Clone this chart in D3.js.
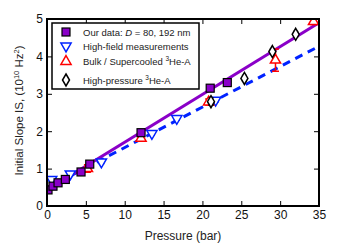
<!DOCTYPE html>
<html>
<head>
<meta charset="utf-8">
<script src="https://cdn.jsdelivr.net/npm/d3@7"></script>
<style>
  body { margin: 0; background: #fff; }
  svg { font-family: "Liberation Sans", Arial, sans-serif; }
</style>
</head>
<body>
<div id="chart"></div>
<script>
// values
const ourP = [0.13, 0.77, 1.42, 2.36, 4.38, 5.5, 12.1, 21.0, 23.2];
const ourIS = [0.43, 0.53, 0.62, 0.71, 0.91, 1.12, 1.96, 3.15, 3.30];

const fieldP = [0.6, 3.0, 7.0, 13.5, 16.7, 21.7];
const fieldIS = [0.71, 0.86, 1.18, 1.94, 2.34, 2.83];

const bulkP = [5.2, 12.1, 20.8, 29.4, 34.3];
const bulkIS = [1.0, 1.81, 2.78, 3.90, 4.93];
const bulkErr = [0.1, 0.06, 0.08, 0.3, 0.08];

const hpP = [21.1, 25.4, 29.0, 32.0];
const hpIS = [2.79, 3.41, 4.13, 4.59];
const hpErr = [0.1, 0.08, 0.08, 0.08];

const fitP = [0, 35];
const ourFit = [0.43, 4.9];
const fieldFit = [0.48, 4.27];

const xTicks = [0, 5, 10, 15, 20, 25, 30, 35];
const yTicks = [0, 1, 2, 3, 4, 5];

const W = 340, H = 250;
const m = { left: 47, right: 21, top: 19, bottom: 44 };

const svg = d3.select("#chart").append("svg").attr("width", W).attr("height", H);

const x = d3.scaleLinear().domain([0, 35]).range([m.left, W - m.right]);
const y = d3.scaleLinear().domain([0, 5]).range([H - m.bottom, m.top]);

const purple = "#8a00c8";

svg.append("clipPath").attr("id", "clip")
  .append("rect").attr("x", m.left).attr("y", m.top)
  .attr("width", W - m.left - m.right).attr("height", H - m.top - m.bottom);

const plot = svg.append("g").attr("clip-path", "url(#clip)");

// fit lines
const line = d3.line().x(d => x(d[0])).y(d => y(d[1]));
plot.append("path")
  .datum(fitP.map((p, i) => [p, fieldFit[i]]))
  .attr("d", line).attr("fill", "none")
  .attr("stroke", "#0022ff").attr("stroke-width", 3).attr("stroke-dasharray", "8,6");
plot.append("path")
  .datum(fitP.map((p, i) => [p, ourFit[i]]))
  .attr("d", line).attr("fill", "none")
  .attr("stroke", purple).attr("stroke-width", 3);

const tri = d3.symbol().type(d3.symbolTriangle).size(45);

// high-field (down triangles)
const field = fieldP.map((p, i) => ({ p, v: fieldIS[i], e: 0.05 }));
plot.append("g").selectAll("path.eb").data(field).join("path")
  .attr("d", d => `M${x(d.p)},${y(d.v - d.e)}V${y(d.v + d.e)}M${x(d.p) - 3},${y(d.v - d.e)}h6M${x(d.p) - 3},${y(d.v + d.e)}h6`)
  .attr("stroke", "#0022ff").attr("stroke-width", 1.2);
plot.append("g").selectAll("path.m").data(field).join("path")
  .attr("d", tri)
  .attr("transform", d => `translate(${x(d.p)},${y(d.v)}) rotate(180)`)
  .attr("fill", "#fff").attr("stroke", "#0022ff").attr("stroke-width", 1.5);

// bulk / supercooled (up triangles, red)
const bulk = bulkP.map((p, i) => ({ p, v: bulkIS[i], e: bulkErr[i] }));
plot.append("g").selectAll("path").data(bulk).join("path")
  .attr("d", d => `M${x(d.p)},${y(d.v - d.e)}V${y(d.v + d.e)}M${x(d.p) - 3.5},${y(d.v - d.e)}h7M${x(d.p) - 3.5},${y(d.v + d.e)}h7`)
  .attr("stroke", "#ff0000").attr("stroke-width", 1.5);
plot.append("g").selectAll("path").data(bulk).join("path")
  .attr("d", tri)
  .attr("transform", d => `translate(${x(d.p)},${y(d.v)})`)
  .attr("fill", "#fff").attr("stroke", "#ff0000").attr("stroke-width", 1.5);

// high-pressure (diamonds)
const hp = hpP.map((p, i) => ({ p, v: hpIS[i], e: hpErr[i] }));
const diamond = "M0,-6L3.5,0L0,6L-3.5,0Z";
plot.append("g").selectAll("path").data(hp).join("path")
  .attr("d", d => `M${x(d.p)},${y(d.v - d.e)}V${y(d.v + d.e)}M${x(d.p) - 2.5},${y(d.v - d.e)}h5M${x(d.p) - 2.5},${y(d.v + d.e)}h5`)
  .attr("stroke", "#000").attr("stroke-width", 1.2);
plot.append("g").selectAll("path").data(hp).join("path")
  .attr("d", diamond)
  .attr("transform", d => `translate(${x(d.p)},${y(d.v)})`)
  .attr("fill", "#fff").attr("stroke", "#000").attr("stroke-width", 1.5);

// our data (squares)
plot.append("g").selectAll("rect").data(ourP.map((p, i) => ({ p, v: ourIS[i] }))).join("rect")
  .attr("x", d => x(d.p) - 4).attr("y", d => y(d.v) - 4)
  .attr("width", 8).attr("height", 8)
  .attr("fill", purple).attr("stroke", "#000").attr("stroke-width", 1.2);

// axes with inward ticks on all four sides
const axB = svg.append("g").attr("transform", `translate(0,${H - m.bottom})`)
  .call(d3.axisBottom(x).tickValues(xTicks).tickFormat(d3.format("d")).tickSize(-5).tickPadding(4));
const axL = svg.append("g").attr("transform", `translate(${m.left},0)`)
  .call(d3.axisLeft(y).tickValues(yTicks).tickFormat(d3.format("d")).tickSize(-5).tickPadding(4));
const axT = svg.append("g").attr("transform", `translate(0,${m.top})`)
  .call(d3.axisTop(x).tickValues(xTicks).tickSize(-5).tickFormat(""));
const axR = svg.append("g").attr("transform", `translate(${W - m.right},0)`)
  .call(d3.axisRight(y).tickValues(yTicks).tickSize(-5).tickFormat(""));
[axB, axL, axT, axR].forEach(a => {
  a.select(".domain").remove();
  a.selectAll("line").attr("stroke", "#000").attr("stroke-width", 1);
  a.selectAll("text").attr("font-size", 12).attr("fill", "#111")
    .attr("font-family", "'Liberation Sans', Arial, sans-serif");
});

svg.append("rect")
  .attr("x", m.left).attr("y", m.top)
  .attr("width", W - m.left - m.right).attr("height", H - m.top - m.bottom)
  .attr("fill", "none").attr("stroke", "#000").attr("stroke-width", 2);

// axis labels
svg.append("text").attr("x", x(17.5)).attr("y", 240)
  .attr("text-anchor", "middle").attr("font-size", 12).attr("fill", "#222")
  .text("Pressure (bar)");

const yl = svg.append("text")
  .attr("transform", `translate(23,${(m.top + H - m.bottom) / 2 - 2}) rotate(-90)`)
  .attr("text-anchor", "middle").attr("font-size", 11.5).attr("fill", "#222");
yl.append("tspan").text("Initial Slope IS, (10");
yl.append("tspan").attr("font-size", 7.5).attr("dy", -4).text("10");
yl.append("tspan").attr("dy", 4).text(" Hz");
yl.append("tspan").attr("font-size", 7.5).attr("dy", -4).text("2");
yl.append("tspan").attr("dy", 4).text(")");

// legend
const lg = svg.append("g");
lg.append("rect").attr("x", 52).attr("y", 23).attr("width", 147).attr("height", 66)
  .attr("fill", "#fff").attr("stroke", "#000").attr("stroke-width", 1.5);

const rows = [32, 46, 61.5, 80];
const mx = 66, tx = 83;
lg.append("rect").attr("x", mx - 4).attr("y", rows[0] - 4).attr("width", 8).attr("height", 8)
  .attr("fill", purple).attr("stroke", "#000").attr("stroke-width", 1.2);
lg.append("path").attr("d", tri).attr("transform", `translate(${mx},${rows[1]}) rotate(180)`)
  .attr("fill", "#fff").attr("stroke", "#0022ff").attr("stroke-width", 1.5);
lg.append("path").attr("d", tri).attr("transform", `translate(${mx},${rows[2]})`)
  .attr("fill", "#fff").attr("stroke", "#ff0000").attr("stroke-width", 1.5);
lg.append("path").attr("d", diamond).attr("transform", `translate(${mx},${rows[3]})`)
  .attr("fill", "#fff").attr("stroke", "#000").attr("stroke-width", 1.5);

const fs = 9.5;
const t0 = lg.append("text").attr("x", tx).attr("y", rows[0] + 3.5).attr("font-size", fs).attr("fill", "#222");
t0.append("tspan").text("Our data: ");
t0.append("tspan").attr("font-style", "italic").text("D");
t0.append("tspan").text(" = 80, 192 nm");

lg.append("text").attr("x", tx).attr("y", rows[1] + 3.5).attr("font-size", fs).attr("fill", "#222")
  .text("High-field measurements");

const t2 = lg.append("text").attr("x", tx).attr("y", rows[2] + 3.5).attr("font-size", fs).attr("fill", "#222");
t2.append("tspan").text("Bulk / Supercooled ");
t2.append("tspan").attr("font-size", 6.5).attr("dy", -4).text("3");
t2.append("tspan").attr("dy", 4).text("He-A");

const t3 = lg.append("text").attr("x", tx).attr("y", rows[3] + 3.5).attr("font-size", fs).attr("fill", "#222");
t3.append("tspan").text("High-pressure ");
t3.append("tspan").attr("font-size", 6.5).attr("dy", -4).text("3");
t3.append("tspan").attr("dy", 4).text("He-A");
</script>
</body>
</html>
